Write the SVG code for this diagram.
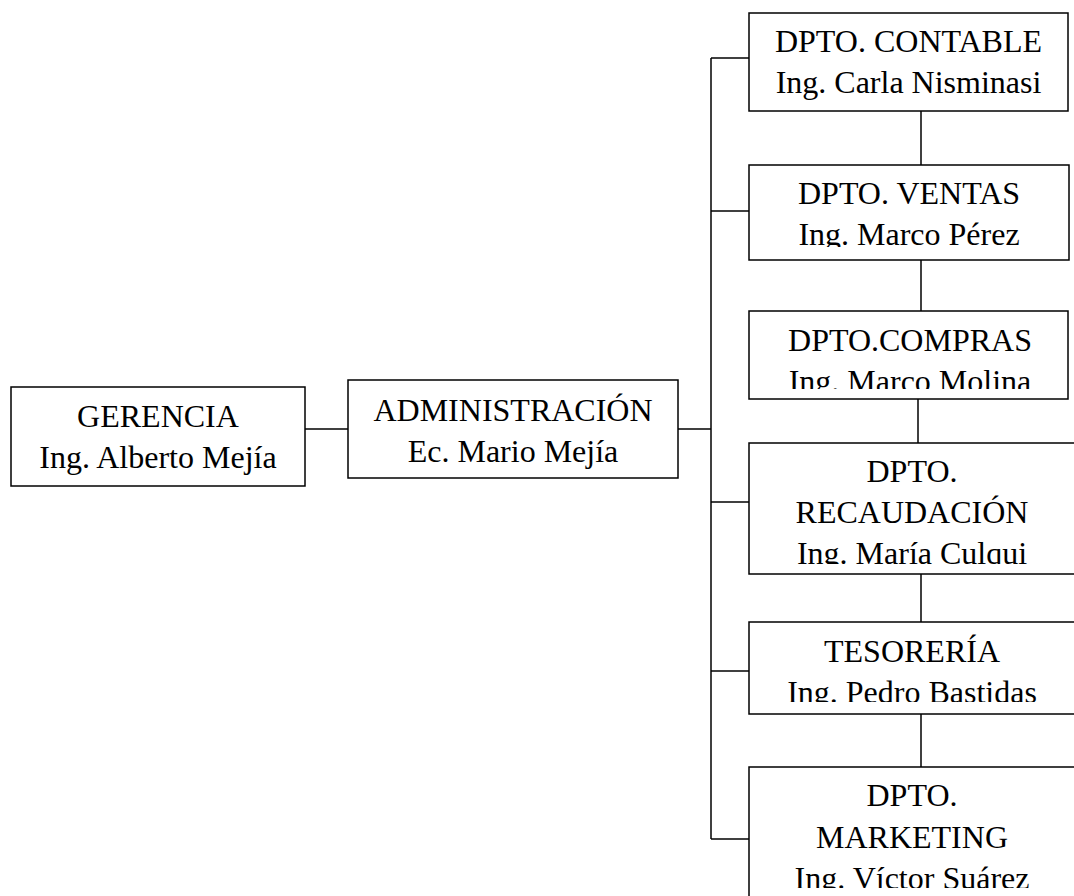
<svg xmlns="http://www.w3.org/2000/svg" width="1074" height="896" viewBox="0 0 1074 896">
  <style>
    .box { fill: #ffffff; stroke: #000000; stroke-width: 1.5; }
    .lbl { font-family: "Liberation Serif", "Times New Roman", serif; font-size: 32px; fill: #000000; text-anchor: middle; }
    .wire { stroke: #000000; stroke-width: 1.5; fill: none; }
  </style>
  <defs>
    <clipPath id="clip-ventas"><rect x="749" y="165" width="320" height="82"/></clipPath>
    <clipPath id="clip-compras"><rect x="749" y="311" width="320" height="78"/></clipPath>
    <clipPath id="clip-recaudacion"><rect x="749" y="443" width="330" height="121"/></clipPath>
    <clipPath id="clip-tesoreria"><rect x="749" y="622" width="330" height="80"/></clipPath>
    <clipPath id="clip-marketing"><rect x="749" y="767" width="330" height="121"/></clipPath>
  </defs>
  <rect width="1074" height="896" fill="#ffffff"/>

  <!-- connectors -->
  <g id="connectors">
    <line class="wire" x1="305" y1="429" x2="348" y2="429"/>
    <line class="wire" x1="678" y1="429" x2="711" y2="429"/>
    <line class="wire" x1="711" y1="58" x2="711" y2="839"/>
    <line class="wire" x1="711" y1="58" x2="749" y2="58"/>
    <line class="wire" x1="711" y1="211" x2="749" y2="211"/>
    <line class="wire" x1="711" y1="502" x2="749" y2="502"/>
    <line class="wire" x1="711" y1="671" x2="749" y2="671"/>
    <line class="wire" x1="711" y1="839" x2="749" y2="839"/>
    <line class="wire" x1="921" y1="111" x2="921" y2="165"/>
    <line class="wire" x1="921" y1="260" x2="921" y2="311"/>
    <line class="wire" x1="918" y1="399" x2="918" y2="448"/>
    <line class="wire" x1="921" y1="574" x2="921" y2="624"/>
    <line class="wire" x1="921" y1="714" x2="921" y2="767"/>
  </g>

  <g id="gerencia">
    <rect class="box" x="11" y="387" width="294" height="99"/>
    <text class="lbl" x="158" y="427">GERENCIA</text>
    <text class="lbl" x="158" y="468">Ing. Alberto Mejía</text>
  </g>

  <g id="administracion">
    <rect class="box" x="348" y="380" width="330" height="98"/>
    <text class="lbl" x="513" y="421">ADMINISTRACIÓN</text>
    <text class="lbl" x="513" y="462">Ec. Mario Mejía</text>
  </g>

  <g id="contable">
    <rect class="box" x="749" y="13" width="319" height="98"/>
    <text class="lbl" x="908.5" y="52">DPTO. CONTABLE</text>
    <text class="lbl" x="908.5" y="93">Ing. Carla Nisminasi</text>
  </g>

  <g id="ventas">
    <rect class="box" x="749" y="165" width="320" height="95"/>
    <g clip-path="url(#clip-ventas)">
      <text class="lbl" x="909" y="204">DPTO. VENTAS</text>
      <text class="lbl" x="909" y="245">Ing. Marco Pérez</text>
    </g>
  </g>

  <g id="compras">
    <rect class="box" x="749" y="311" width="319" height="88"/>
    <g clip-path="url(#clip-compras)">
      <text class="lbl" x="910" y="351">DPTO.COMPRAS</text>
      <text class="lbl" x="910" y="392">Ing. Marco Molina</text>
    </g>
  </g>

  <g id="recaudacion">
    <rect class="box" x="749" y="443" width="328" height="131"/>
    <g clip-path="url(#clip-recaudacion)">
      <text class="lbl" x="912" y="482">DPTO.</text>
      <text class="lbl" x="912" y="523">RECAUDACIÓN</text>
      <text class="lbl" x="912" y="564">Ing. María Culqui</text>
    </g>
  </g>

  <g id="tesoreria">
    <rect class="box" x="749" y="622" width="328" height="92"/>
    <g clip-path="url(#clip-tesoreria)">
      <text class="lbl" x="912" y="662">TESORERÍA</text>
      <text class="lbl" x="912" y="703">Ing. Pedro Bastidas</text>
    </g>
  </g>

  <g id="marketing">
    <rect class="box" x="749" y="767" width="328" height="140"/>
    <g clip-path="url(#clip-marketing)">
      <text class="lbl" x="912" y="806">DPTO.</text>
      <text class="lbl" x="912" y="848">MARKETING</text>
      <text class="lbl" x="912" y="889">Ing. Víctor Suárez</text>
    </g>
  </g>
</svg>
